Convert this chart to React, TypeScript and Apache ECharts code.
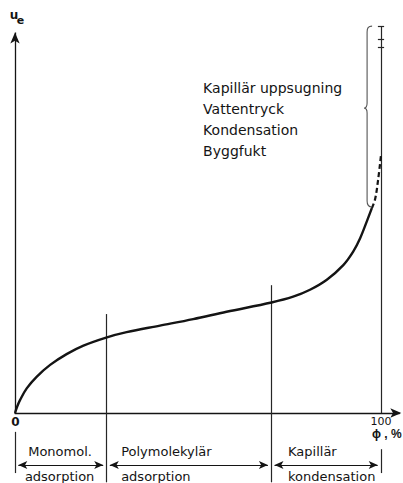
import React, { useEffect, useRef } from "react";
import * as echarts from "echarts";

// Sorption curve (relative humidity %, moisture content u_e in arbitrary units)
const curveX = [0, 0.6, 1.4, 3.2, 5.9, 9.6, 14.1, 18.7, 24.9, 30.5, 39.6, 48.7, 57.8, 70.1, 76.0, 80.6, 85.2, 89.7, 92.4, 94.3, 96.1, 97.5];
const curveY = [0, 1.7, 3.4, 6.4, 9.4, 12.5, 15.3, 17.5, 19.6, 21.0, 22.7, 24.4, 26.3, 28.7, 30.2, 32.0, 34.6, 38.4, 41.9, 45.4, 49.7, 53.2];
// Dashed continuation near 100 %
const dashX = [97.5, 98.4, 99.2, 100];
const dashY = [53.2, 55.6, 60.5, 67];

// Vertical guide segments
const segX = [0, 25, 70, 100, 100];
const segTop = [-4.9, 25.7, 33.2, 100.5, -9.4];
const segBottom = [-15.6, -18, -18, 0, -15.6];

// Region bands below the axis
const bandFrom = [0, 25, 70];
const bandTo = [25, 70, 100];
const bandArrowY = -13.5;
const bandTop = ["Monomol.", "Polymolekylär", "Kapillär"];
const bandBottom = ["adsorption", "adsorption", "kondensation"];
const bandTopX = [3.6, 29, 74.6];
const bandBottomX = [2.7, 29, 74.6];
const bandTopY = -10.1;
const bandBottomY = -16.6;

// Tick marks on the 100 % line
const tickY = [100.5, 97.1, 95.1];

// Annotation text block
const noteText = ["Kapillär uppsugning", "Vattentryck", "Kondensation", "Byggfukt"];
const noteX = 51.4;
const noteY = [84.4, 79.0, 73.5, 68.1];

// Brace
const braceX = 96.2;
const braceTop = 100.5;
const braceBottom = 53.5;
const braceTip = 79.2;

// Axis labels
const xTickValues = [0, 100];
const xTickLabels = ["0", "100"];

const FONT = "DejaVu Sans, sans-serif";
const INK = "#141414";

export default function App() {
  const ref = useRef<HTMLDivElement>(null);

  useEffect(() => {
    if (!ref.current) return;
    const chart = echarts.init(ref.current, undefined, { renderer: "svg" });

    const curve = curveX.map((x, i) => [x, curveY[i]]);
    const dash = dashX.map((x, i) => [x, dashY[i]]);

    const guideLines: any[] = segX.map((x, i) => [
      { coord: [x, segTop[i]] },
      { coord: [x, segBottom[i]] },
    ]);
    tickY.forEach((y) => {
      guideLines.push([{ coord: [99.15, y] }, { coord: [100.85, y] }]);
    });

    const bandLines = bandFrom.map((f, i) => [
      { coord: [f + 0.9, bandArrowY] },
      { coord: [bandTo[i] - 0.9, bandArrowY] },
    ]);

    const baseMark = {
      silent: true,
      animation: false,
      label: { show: false },
      emphasis: { disabled: true },
    };

    chart.setOption({
      animation: false,
      grid: { left: 15, right: 3.7, top: 24.15, bottom: 0.7 },
      xAxis: {
        type: "value",
        min: 0,
        max: 105,
        axisLine: {
          show: true,
          onZero: true,
          symbol: ["none", "arrow"],
          symbolSize: [7, 11],
          symbolOffset: [0, 2],
          lineStyle: { color: INK, width: 1.3 },
        },
        axisTick: { show: false },
        axisLabel: { show: false },
        splitLine: { show: false },
      },
      yAxis: {
        type: "value",
        min: -18,
        max: 101,
        axisLine: { show: false },
        axisTick: { show: false },
        axisLabel: { show: false },
        splitLine: { show: false },
      },
      series: [
        {
          type: "line",
          data: curve,
          smooth: 0.35,
          showSymbol: false,
          silent: true,
          z: 5,
          lineStyle: { color: INK, width: 2.4 },
          markLine: {
            ...baseMark,
            symbol: ["none", "none"],
            lineStyle: { type: "solid", color: "#262626", width: 1.2 },
            data: guideLines,
          },
        },
        {
          type: "line",
          data: dash,
          smooth: 0.4,
          showSymbol: false,
          silent: true,
          z: 5,
          lineStyle: { color: INK, width: 2.2, type: [5, 3] },
          markLine: {
            ...baseMark,
            symbol: ["arrow", "arrow"],
            symbolSize: [6, 9],
            lineStyle: { type: "solid", color: INK, width: 1.2 },
            data: bandLines,
          },
        },
        {
          type: "line",
          data: [[0, 0]],
          showSymbol: false,
          silent: true,
          lineStyle: { width: 0 },
          markLine: {
            ...baseMark,
            symbol: ["none", "arrow"],
            symbolSize: [7, 11],
            lineStyle: { type: "solid", color: INK, width: 1.3 },
            data: [[{ coord: [0, 0] }, { coord: [0, 98.8] }]],
          },
        },
      ],
    });

    const px = (x: number, y: number) =>
      chart.convertToPixel({ gridIndex: 0 }, [x, y]) as number[];

    const texts: any[] = [];
    const addText = (
      t: string,
      p: number[],
      size: number,
      align: string,
      weight: string = "normal",
      family: string = FONT
    ) => {
      texts.push({
        type: "text",
        x: p[0],
        y: p[1],
        silent: true,
        z: 10,
        style: {
          text: t,
          fontSize: size,
          fontFamily: family,
          fontWeight: weight,
          fill: INK,
          align,
          verticalAlign: "middle",
        },
      });
    };

    noteText.forEach((t, i) => addText(t, px(noteX, noteY[i]), 14, "left"));
    bandTop.forEach((t, i) => addText(t, px(bandTopX[i], bandTopY), 13, "left"));
    bandBottom.forEach((t, i) => addText(t, px(bandBottomX[i], bandBottomY), 13, "left"));
    xTickValues.forEach((v, i) => {
      const p = px(v, 0);
      addText(xTickLabels[i], [p[0] + (i === 0 ? 0.5 : 0), p[1] + 8.5], i === 0 ? 12 : 11, "center", i === 0 ? "bold" : "normal");
    });
    const p100 = px(100, 0);
    addText("ϕ , %", [p100[0] - 9, p100[1] + 21], 12, "left", "bold", "Liberation Sans, Arial, sans-serif");

    const axTop = px(0, 100);
    addText("u", [axTop[0] - 1, axTop[1] - 13], 12, "center", "bold");
    addText("e", [axTop[0] + 5.5, axTop[1] - 7.5], 11, "center", "bold");

    // Brace
    const bt = px(braceX, braceTop);
    const bb = px(braceX, braceBottom);
    const btip = px(braceX, braceTip);
    const H = bb[1] - bt[1];
    const T = btip[1] - bt[1];
    const d =
      `M8,0 C4,0 3,2 3,6 L3,${T - 5} C3,${T - 2} 2,${T} 0,${T} ` +
      `C2,${T} 3,${T + 2} 3,${T + 5} L3,${H - 6} C3,${H - 2} 4,${H} 8,${H}`;
    echarts.graphic.registerShape("brace", echarts.graphic.extendPath(d, {}) as any);

    chart.setOption({
      graphic: [
        ...texts,
        {
          type: "brace",
          x: bt[0] - 3,
          y: bt[1],
          silent: true,
          z: 6,
          style: { fill: "none", stroke: "#555", lineWidth: 1.1 },
        },
      ],
    });

    return () => chart.dispose();
  }, []);

  return <div ref={ref} style={{ width: 403, height: 483, position: "absolute", left: 0, top: 0, background: "#fff" }} />;
}
